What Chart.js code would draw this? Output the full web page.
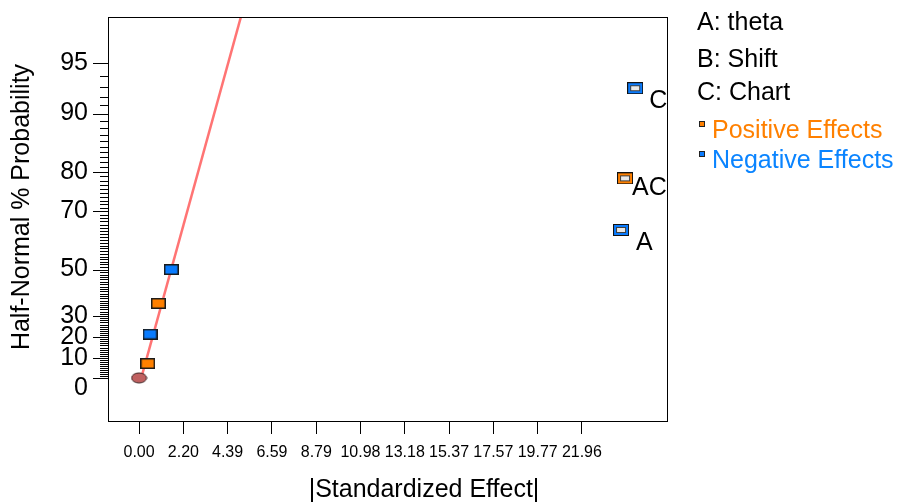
<!DOCTYPE html>
<html>
<head>
<meta charset="utf-8">
<title>Half-Normal Plot</title>
<script src="https://cdn.jsdelivr.net/npm/chart.js@4.4.1/dist/chart.umd.min.js"></script>
<style>
    html, body { margin: 0; padding: 0; background: #fff; }
    canvas { display: block; }
</style>
</head>
<body>
<canvas id="halfNormalChart" width="897" height="502"></canvas>
<script>
// values
const factorNames = ['A: theta', 'B: Shift', 'C: Chart'];
const effectTerms = ['', '', '', '', 'A', 'AC', 'C'];
const effectValues = [0.43, 0.545, 0.96, 1.60, 23.9, 24.1, 24.6];
const effectProbabilities = [7.14, 21.43, 35.71, 50.0, 64.29, 78.57, 92.86];
const effectSigns = ['positive', 'negative', 'positive', 'negative', 'negative', 'positive', 'negative'];
const modelTerms = ['A', 'AC', 'C'];
const errorValues = [0];
const errorProbabilities = [0];
const fitLineValues = [0.11, 6.0];
const fitLineProbabilities = [0, 99.26];
const xTickLabels = ['0.00', '2.20', '4.39', '6.59', '8.79', '10.98', '13.18', '15.37', '17.57', '19.77', '21.96'];
const yTickLabels = [0, 10, 20, 30, 50, 70, 80, 90, 95];
const yMinorTickMax = 95;
const xRange = [-1.54, 26.18];
const yRangeZ = [-0.268, 2.246];
const xTitle = '|Standardized Effect|';
const yTitle = 'Half-Normal % Probability';

const FONT = '"Liberation Sans", Arial, Helvetica, sans-serif';
const COLORS = {
    positive: '#ff8000',
    negative: '#0a7cff',
    error: '#c06060',
    line: '#ff7474',
    positiveText: '#ff8000',
    negativeText: '#0a84ff'
};

// inverse standard normal (Acklam)
function invNorm(p) {
    const a = [-3.969683028665376e+01, 2.209460984245205e+02, -2.759285104469687e+02, 1.383577518672690e+02, -3.066479806614716e+01, 2.506628277459239e+00];
    const b = [-5.447609879822406e+01, 1.615858368580409e+02, -1.556989798598866e+02, 6.680131188771972e+01, -1.328068155288572e+01];
    const c = [-7.784894002430293e-03, -3.223964580411365e-01, -2.400758277161838e+00, -2.549732539343734e+00, 4.374664141464968e+00, 2.938163982698783e+00];
    const d = [7.784695709041462e-03, 3.224671290700398e-01, 2.445134137142996e+00, 3.754408661907416e+00];
    const plow = 0.02425;
    if (p < plow) {
        const q = Math.sqrt(-2 * Math.log(p));
        return (((((c[0] * q + c[1]) * q + c[2]) * q + c[3]) * q + c[4]) * q + c[5]) / ((((d[0] * q + d[1]) * q + d[2]) * q + d[3]) * q + 1);
    }
    if (p <= 1 - plow) {
        const q = p - 0.5;
        const r = q * q;
        return (((((a[0] * r + a[1]) * r + a[2]) * r + a[3]) * r + a[4]) * r + a[5]) * q / (((((b[0] * r + b[1]) * r + b[2]) * r + b[3]) * r + b[4]) * r + 1);
    }
    const q = Math.sqrt(-2 * Math.log(1 - p));
    return -(((((c[0] * q + c[1]) * q + c[2]) * q + c[3]) * q + c[4]) * q + c[5]) / ((((d[0] * q + d[1]) * q + d[2]) * q + d[3]) * q + 1);
}

// half-normal % probability -> z position on the axis
function probToZ(p) {
    return invNorm(0.5 + p / 200);
}

class HalfNormalPlot {
    constructor() {
        this.canvas = document.getElementById('halfNormalChart');
        this.markers = this.createMarkers();
        this.initializeChart();
    }

    makeCanvas(w, h, draw) {
        const c = document.createElement('canvas');
        c.width = w;
        c.height = h;
        draw(c.getContext('2d'));
        return c;
    }

    createMarkers() {
        const small = color => this.makeCanvas(15, 11, ctx => {
            ctx.fillStyle = color;
            ctx.fillRect(1, 1, 13, 9);
            ctx.strokeStyle = '#1a1a1a';
            ctx.lineWidth = 1.5;
            ctx.strokeRect(0.75, 0.75, 13.5, 9.5);
        });
        const model = color => this.makeCanvas(16, 12, ctx => {
            ctx.fillStyle = color;
            ctx.fillRect(0, 0, 16, 12);
            ctx.strokeStyle = '#111';
            ctx.lineWidth = 1;
            ctx.strokeRect(0.5, 0.5, 15, 11);
            ctx.fillStyle = '#e8e8e8';
            ctx.fillRect(3.5, 3.5, 9, 5);
            ctx.strokeStyle = '#404040';
            ctx.strokeRect(3.5, 3.5, 9, 5);
        });
        return {
            positive: small(COLORS.positive),
            negative: small(COLORS.negative),
            positiveModel: model(COLORS.positive),
            negativeModel: model(COLORS.negative),
            error: this.makeCanvas(17, 12, ctx => {
                ctx.beginPath();
                ctx.ellipse(8.5, 6, 7.5, 5, 0, 0, Math.PI * 2);
                ctx.fillStyle = COLORS.error;
                ctx.fill();
                ctx.strokeStyle = '#3a2020';
                ctx.lineWidth = 1;
                ctx.stroke();
            })
        };
    }

    initializeChart() {
        const markers = this.markers;

        // plot frame
        const frame = {
            id: 'frame',
            afterDraw(chart) {
                const { ctx, chartArea: a } = chart;
                ctx.save();
                ctx.strokeStyle = '#000';
                ctx.lineWidth = 1;
                ctx.strokeRect(a.left + 0.5, a.top + 0.5, a.right - a.left, a.bottom - a.top);
                ctx.restore();
            }
        };

        // major + minor probability ticks on the left axis
        const yTicks = {
            id: 'yTicks',
            afterDraw(chart) {
                const { ctx, chartArea: a, scales: { y } } = chart;
                ctx.save();
                ctx.strokeStyle = '#000';
                ctx.lineWidth = 1;
                for (let p = 0; p <= yMinorTickMax; p++) {
                    const py = Math.round(y.getPixelForValue(probToZ(p))) + 0.5;
                    const len = yTickLabels.includes(p) ? 15 : 8;
                    ctx.beginPath();
                    ctx.moveTo(a.left - len, py);
                    ctx.lineTo(a.left, py);
                    ctx.stroke();
                }
                ctx.restore();
            }
        };

        // axis titles (placed as in the original, not centred on the plot)
        const axisTitles = {
            id: 'axisTitles',
            afterDraw(chart) {
                const { ctx } = chart;
                ctx.save();
                ctx.font = '25px ' + FONT;
                ctx.fillStyle = '#000';
                ctx.textAlign = 'center';
                ctx.textBaseline = 'middle';
                ctx.fillText(xTitle, 424, 490);
                ctx.translate(22, 207);
                ctx.rotate(-Math.PI / 2);
                ctx.fillText(yTitle, 0, 0);
                ctx.restore();
            }
        };

        // term labels next to the model points
        const labelOffsets = { A: [15, 20], AC: [7, 17], C: [14, 20] };
        const termLabels = {
            id: 'termLabels',
            afterDatasetsDraw(chart) {
                const { ctx, chartArea: a, scales: { x, y } } = chart;
                ctx.save();
                ctx.beginPath();
                ctx.rect(a.left, a.top, a.right - a.left, a.bottom - a.top);
                ctx.clip();
                ctx.font = '25px ' + FONT;
                ctx.fillStyle = '#000';
                ctx.textBaseline = 'alphabetic';
                effectTerms.forEach((term, i) => {
                    if (!term) return;
                    const off = labelOffsets[term] || [12, 18];
                    const px = x.getPixelForValue(effectValues[i]);
                    const py = y.getPixelForValue(probToZ(effectProbabilities[i]));
                    ctx.fillText(term, px + off[0], py + off[1]);
                });
                ctx.restore();
            }
        };

        // factor names and effect colour key on the right
        const sideLegend = {
            id: 'sideLegend',
            afterDraw(chart) {
                const { ctx } = chart;
                const left = 697;
                const rows = [30, 67, 100, 138, 168];
                ctx.save();
                ctx.font = '25px ' + FONT;
                ctx.textBaseline = 'alphabetic';
                ctx.fillStyle = '#000';
                factorNames.forEach((name, i) => ctx.fillText(name, left, rows[i]));
                [['Positive Effects', COLORS.positive, COLORS.positiveText], ['Negative Effects', COLORS.negative, COLORS.negativeText]]
                    .forEach(([text, fill, color], i) => {
                        const base = rows[3 + i];
                        ctx.fillStyle = fill;
                        ctx.fillRect(left + 2, base - 17, 6, 6);
                        ctx.strokeStyle = '#222';
                        ctx.lineWidth = 1;
                        ctx.strokeRect(left + 2.5, base - 16.5, 5, 5);
                        ctx.fillStyle = color;
                        ctx.fillText(text, left + 15, base);
                    });
                ctx.restore();
            }
        };

        this.chart = new Chart(this.canvas, {
            type: 'scatter',
            data: {
                datasets: [
                    {
                        type: 'line',
                        label: 'fit',
                        data: fitLineValues.map((v, i) => ({ x: v, y: probToZ(fitLineProbabilities[i]) })),
                        borderColor: COLORS.line,
                        borderWidth: 2.5,
                        pointRadius: 0,
                        fill: false,
                        order: 3
                    },
                    {
                        label: 'error',
                        data: errorValues.map((v, i) => ({ x: v, y: probToZ(errorProbabilities[i]) })),
                        pointStyle: markers.error,
                        pointRadius: 7,
                        order: 2
                    },
                    {
                        label: 'effects',
                        data: effectValues.map((v, i) => ({ x: v, y: probToZ(effectProbabilities[i]) })),
                        pointStyle: ctx => {
                            const i = ctx.dataIndex;
                            const inModel = modelTerms.includes(effectTerms[i]);
                            return markers[effectSigns[i] + (inModel ? 'Model' : '')];
                        },
                        pointRadius: 7,
                        order: 1
                    }
                ]
            },
            options: {
                responsive: false,
                animation: false,
                devicePixelRatio: 1,
                layout: { padding: { left: 0, top: 17, right: 230, bottom: 0 } },
                plugins: {
                    legend: { display: false },
                    tooltip: { enabled: false }
                },
                scales: {
                    x: {
                        type: 'linear',
                        min: xRange[0],
                        max: xRange[1],
                        afterBuildTicks: scale => {
                            scale.ticks = xTickLabels.map(s => ({ value: parseFloat(s) }));
                        },
                        afterFit: scale => {
                            scale.height = 81;
                            scale.paddingLeft = 0;
                            scale.paddingRight = 0;
                        },
                        ticks: {
                            callback: (v, i) => xTickLabels[i],
                            autoSkip: false,
                            maxRotation: 0,
                            padding: 9,
                            color: '#000',
                            font: { family: FONT, size: 16 }
                        },
                        grid: { drawOnChartArea: false, tickLength: 13, color: '#000' },
                        border: { display: false }
                    },
                    y: {
                        type: 'linear',
                        min: yRangeZ[0],
                        max: yRangeZ[1],
                        afterBuildTicks: scale => {
                            // the 0 label sits a little below its tick
                            scale.ticks = yTickLabels.map(p => ({ value: p === 0 ? -0.062 : probToZ(p) }));
                        },
                        afterFit: scale => {
                            scale.width = 108;
                            scale.paddingTop = 0;
                            scale.paddingBottom = 0;
                        },
                        ticks: {
                            callback: (v, i) => String(yTickLabels[i]),
                            autoSkip: false,
                            padding: 20,
                            color: '#000',
                            font: { family: FONT, size: 25 }
                        },
                        grid: { display: false, drawTicks: false },
                        border: { display: false }
                    }
                }
            },
            plugins: [termLabels, yTicks, frame, axisTitles, sideLegend]
        });
    }
}

document.addEventListener('DOMContentLoaded', () => {
    new HalfNormalPlot();
});
</script>
</body>
</html>
